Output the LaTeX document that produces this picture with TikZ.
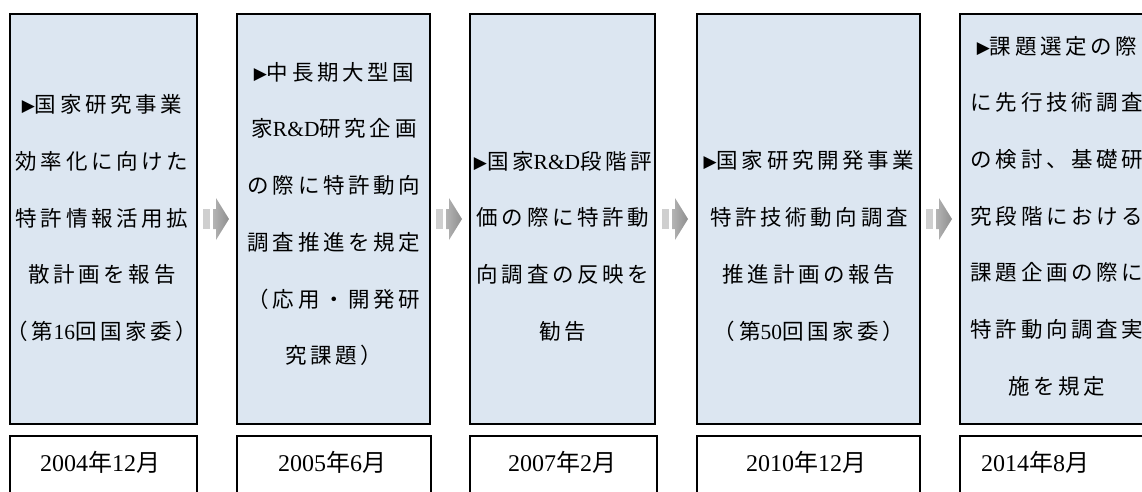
\documentclass[tikz,border=0pt]{standalone}
\usepackage{fontspec}
\usetikzlibrary{calc}
\setmainfont{Liberation Serif}
\newfontfamily\cjk{Noto Sans CJK JP}[LetterSpace=17]
\newfontfamily\cjkd{Noto Sans CJK JP}
\newfontfamily\latf{Liberation Serif}
\newfontfamily\symf{DejaVu Sans}
\newcommand\lat[1]{{\latf #1}}
\newcommand\tri{\raisebox{1pt}{\symf\fontsize{17}{17}\selectfont ▶}}
\definecolor{boxblue}{HTML}{DCE6F1}
\definecolor{barc}{HTML}{CFCFCF}
\definecolor{arrL}{HTML}{B4B4B4}
\definecolor{arrR}{HTML}{8E8E8E}
\tikzset{
  mainbox/.style={draw=black, line width=1.1pt, fill=boxblue, minimum height=410pt, inner sep=0pt},
  datebox/.style={draw=black, line width=1.7pt, fill=white, minimum height=70pt, inner sep=0pt, anchor=north},
  boxtext/.style={font=\cjk\fontsize{21.5}{56.7}\selectfont, align=center, inner sep=0pt},
  datetext/.style={font=\cjkd\fontsize{24}{28}\selectfont, inner sep=0pt},
  garrow/.pic={
    \fill[barc] (-14,-10) rectangle (-7.5,10);
    \shade[left color=arrL, right color=arrR] (-4,-10) -- (-1,-10) -- (-1,-21) -- (12,0) -- (-1,21) -- (-1,10) -- (-4,10) -- cycle;
  }
}
\begin{document}
\begin{tikzpicture}[x=1pt,y=1pt]
\useasboundingbox (0,0) rectangle (1142,-491);
\clip (0,0) rectangle (1142,-491);
% main boxes
\node[mainbox, minimum width=187pt] (b1) at (103.5,-219) {};
\node[mainbox, minimum width=193pt] (b2) at (333.5,-219) {};
\node[mainbox, minimum width=185pt] (b3) at (562.5,-219) {};
\node[mainbox, minimum width=223pt] (b4) at (808.5,-219) {};
\node[mainbox, minimum width=190pt] (b5) at (1055,-219) {};
% texts
\node[boxtext] (t1) at (102,-218) {\tri 国家研究事業\\効率化に向けた\\特許情報活用拡\\散計画を報告\\（第\lat{16}回国家委）};
\node[boxtext] (t2) at (334,-214) {\tri 中長期大型国\\家\lat{R\&D}研究企画\\の際に特許動向\\調査推進を規定\\（応用・開発研\\究課題）};
\node[boxtext] (t3) at (563,-246) {\tri 国家\lat{R\&D}段階評\\価の際に特許動\\向調査の反映を\\勧告};
\node[boxtext] (t4) at (809,-246) {\tri 国家研究開発事業\\特許技術動向調査\\推進計画の報告\\（第\lat{50}回国家委）};
\node[boxtext] (t5) at (1057,-216) {\tri 課題選定の際\\に先行技術調査\\の検討、基礎研\\究段階における\\課題企画の際に\\特許動向調査実\\施を規定};
% date boxes
\node[datebox, minimum width=187pt] (d1) at (103.5,-435) {};
\node[datebox, minimum width=194pt] (d2) at (334,-435) {};
\node[datebox, minimum width=187pt] (d3) at (563.5,-435) {};
\node[datebox, minimum width=223pt] (d4) at (808.5,-435) {};
\node[datebox, minimum width=190pt] (d5) at (1055,-435) {};
\node[datetext] (dt1) at (100,-462) {\lat{2004}年\lat{12}月};
\node[datetext] (dt2) at (332,-462) {\lat{2005}年\lat{6}月};
\node[datetext] (dt3) at (562,-462) {\lat{2007}年\lat{2}月};
\node[datetext] (dt4) at (806,-462) {\lat{2010}年\lat{12}月};
\node[datetext] (dt5) at (1035,-462) {\lat{2014}年\lat{8}月};
% arrows
\coordinate (a1) at ($(b1.east)!0.5!(b2.west)$);
\coordinate (a2) at ($(b2.east)!0.5!(b3.west)$);
\coordinate (a3) at ($(b3.east)!0.5!(b4.west)$);
\coordinate (a4) at ($(b4.east)!0.5!(b5.west)$);
\foreach \a in {a1,a2,a3,a4} \pic at (\a) {garrow};
\end{tikzpicture}
\end{document}
